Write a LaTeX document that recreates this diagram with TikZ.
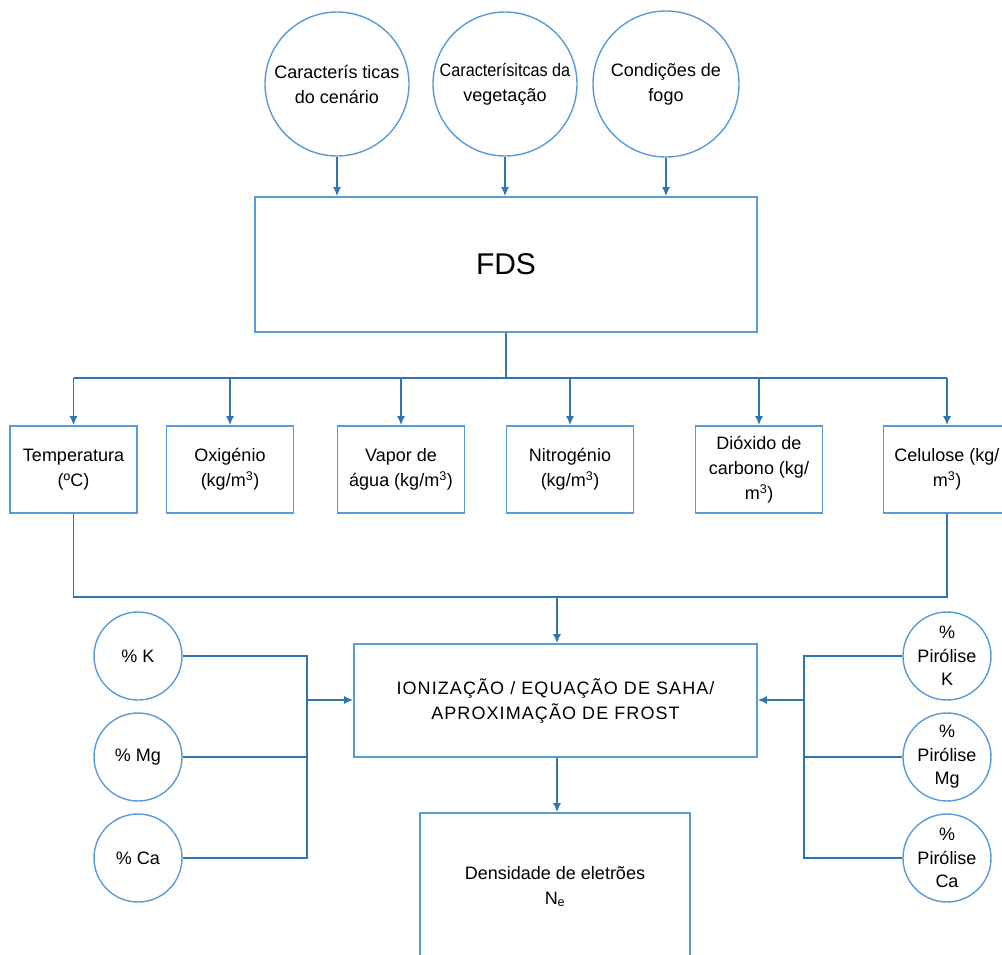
\documentclass[tikz,border=0pt]{standalone}
\usepackage{fontspec}
\usepackage{graphicx}
\setmainfont{Liberation Sans}
\usetikzlibrary{arrows.meta}
\definecolor{bord}{HTML}{5B9BD5}
\definecolor{conn}{HTML}{2E75B6}
\begin{document}
\begin{tikzpicture}[x=1pt,y=-1pt,
  every node/.style={font=\fontsize{18}{25}\selectfont, text=black, align=center, inner sep=0pt},
  rbox/.style={draw=bord, line width=1.6pt, rectangle},
  circ/.style={draw=bord, line width=1.4pt, circle},
  conline/.style={draw=conn, line width=1.6pt},
  arr/.style={conline, -{Latex[length=9pt,width=8pt]}}]
\useasboundingbox (0,0) rectangle (1002,954);
% top circles
\node[circ, minimum size=144pt] (c1) at (337,84) {Caracterís ticas\\do cenário};
\node[circ, minimum size=144pt] (c2) at (505,84) {\scalebox{0.9}[1]{Caracterísitcas da}\\vegetação};
\node[circ, minimum size=146pt] (c3) at (666,84) {Condições de\\fogo};
% FDS
\node[rbox, minimum width=502pt, minimum height=135pt, font=\fontsize{30}{36}\selectfont] (fds) at (506,264.5) {FDS};
\foreach \c in {c1,c2,c3} \draw[arr] (\c.south) -- (\c.south |- fds.north);
% variable boxes
\node[rbox, minimum width=127pt, minimum height=87pt] (b1) at (73.5,469.5) {Temperatura\\(ºC)};
\node[rbox, minimum width=127pt, minimum height=87pt] (b2) at (230,469.5) {Oxigénio\\(kg/m\textsuperscript{3})};
\node[rbox, minimum width=127pt, minimum height=87pt] (b3) at (401,469.5) {Vapor de\\água (kg/m\textsuperscript{3})};
\node[rbox, minimum width=127pt, minimum height=87pt] (b4) at (570,469.5) {Nitrogénio\\(kg/m\textsuperscript{3})};
\node[rbox, minimum width=127pt, minimum height=87pt] (b5) at (759,469.5) {Dióxido de\\carbono (kg/\\m\textsuperscript{3})};
\node[rbox, minimum width=127pt, minimum height=87pt] (b6) at (947,469.5) {Celulose (kg/\\m\textsuperscript{3})};
\coordinate (j1) at (506,378);
\draw[conline] (fds.south) -- (j1);
\draw[conline] (j1 -| b1.north) -- (j1 -| b6.north);
\foreach \b in {b1,b2,b3,b4,b5,b6} \draw[arr] (j1 -| \b.north) -- (\b.north);
% ionization box
\node[rbox, minimum width=403pt, minimum height=113pt] (ion) at (555.5,700.5) {\addfontfeature{LetterSpace=6}IONIZAÇÃO / EQUAÇÃO DE SAHA/\\\addfontfeature{LetterSpace=6}APROXIMAÇÃO DE FROST};
\coordinate (j2) at (557,597);
\draw[conline] (b1.south) |- (j2 -| b6.south) -- (b6.south);
\draw[arr] (j2) -- (j2 |- ion.north);
% density box
\node[rbox, minimum width=270pt, minimum height=147pt] (dens) at (555,886.5) {Densidade de eletrões\\N\textsubscript{e}};
\draw[arr] (ion.south -| j2) -- (j2 |- dens.north);
% left circles
\node[circ, minimum size=88pt] (k) at (138,656) {\% K};
\node[circ, minimum size=88pt] (mg) at (138,757) {\% Mg};
\node[circ, minimum size=88pt] (ca) at (138,858) {\% Ca};
\coordinate (jl) at (307,700);
\draw[conline] (k.east) -| (jl);
\draw[conline] (ca.east) -| (jl);
\draw[conline] (mg.east) -- (mg.east -| jl);
\draw[arr] (jl) -- (jl -| ion.west);
% right circles
\node[circ, minimum size=88pt, font=\fontsize{18}{23.5}\selectfont] (pk) at (947,656) {\%\\Pirólise\\K};
\node[circ, minimum size=88pt, font=\fontsize{18}{23.5}\selectfont] (pmg) at (947,757) {\%\\Pirólise\\Mg};
\node[circ, minimum size=88pt, font=\fontsize{18}{23.5}\selectfont] (pca) at (947,858) {\%\\Pirólise\\Ca};
\coordinate (jr) at (804,700);
\draw[conline] (pk.west) -| (jr);
\draw[conline] (pca.west) -| (jr);
\draw[conline] (pmg.west) -- (pmg.west -| jr);
\draw[arr] (jr) -- (jr -| ion.east);
\end{tikzpicture}
\end{document}
